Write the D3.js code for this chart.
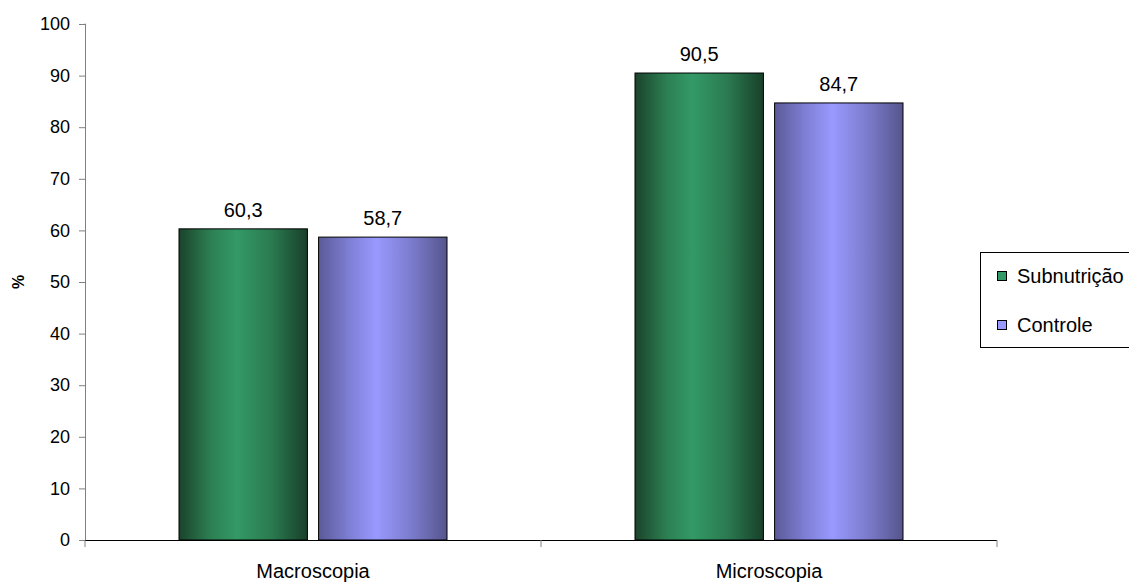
<!DOCTYPE html>
<html>
<head>
<meta charset="utf-8">
<script src="https://cdn.jsdelivr.net/npm/d3@7"></script>
<style>
  body { margin: 0; background: #fff; }
  text { font-family: "Liberation Sans", Arial, sans-serif; fill: #000; }
</style>
</head>
<body>
<svg id="chart"></svg>
<script>
const categories = ["Macroscopia", "Microscopia"];
const seriesNames = ["Subnutrição", "Controle"];
const subnutricao = [60.3, 90.5];
const controle = [58.7, 84.7];
const yTicks = [0, 10, 20, 30, 40, 50, 60, 70, 80, 90, 100];

const W = 1129, H = 584;
const margin = { left: 85, right: 132, top: 24, bottom: 44 };

const svg = d3.select("#chart").attr("width", W).attr("height", H);

// gradients, dark at the edges and light in the middle
const defs = svg.append("defs");
const grads = [
  { id: "g0", stops: ["#1a432b", "#2d8053", "#339966", "#2b7a50", "#17402a"] },
  { id: "g1", stops: ["#5a5a98", "#8080d8", "#9999ff", "#7c7cce", "#55558c"] }
];
grads.forEach(g => {
  const lg = defs.append("linearGradient").attr("id", g.id)
    .attr("x1", "0%").attr("x2", "100%").attr("y1", "0%").attr("y2", "0%");
  [0, 0.25, 0.45, 0.72, 1].forEach((o, i) => {
    lg.append("stop").attr("offset", o).attr("stop-color", g.stops[i]);
  });
});

const x0 = d3.scaleBand()
  .domain(categories)
  .range([margin.left, W - margin.right])
  .paddingInner(0)
  .paddingOuter(0);

const x1 = d3.scaleBand()
  .domain(seriesNames)
  .range([94, x0.bandwidth() - 94])
  .paddingInner(0.08);

const y = d3.scaleLinear()
  .domain([0, 100])
  .range([H - margin.bottom, margin.top]);

const data = categories.map((c, i) => ({
  cat: c,
  vals: [
    { s: seriesNames[0], v: subnutricao[i], k: 0 },
    { s: seriesNames[1], v: controle[i], k: 1 }
  ]
}));

// y axis
const yAxis = d3.axisLeft(y).tickValues(yTicks).tickSize(6).tickPadding(9);
const gy = svg.append("g").attr("transform", `translate(${margin.left},0)`).call(yAxis);
gy.select(".domain").attr("stroke", "#808080").attr("d", `M-0.5,${y(100)}H0.5V${y(0)}`);
gy.selectAll(".tick line").attr("stroke", "#808080").attr("x1", -6).attr("x2", 0);
gy.selectAll(".tick text").style("font-size", "18px");

// y label
svg.append("text")
  .attr("transform", `translate(24,${(y(0) + y(100)) / 2}) rotate(-90)`)
  .attr("text-anchor", "middle")
  .style("font-size", "16px")
  .style("font-weight", "bold")
  .text("%");

// bars
const groups = svg.selectAll(".grp").data(data).enter().append("g")
  .attr("class", "grp")
  .attr("transform", d => `translate(${x0(d.cat)},0)`);

groups.selectAll("rect").data(d => d.vals).enter().append("rect")
  .attr("x", d => x1(d.s))
  .attr("y", d => y(d.v))
  .attr("width", x1.bandwidth())
  .attr("height", d => y(0) - y(d.v))
  .attr("fill", d => `url(#g${d.k})`)
  .attr("stroke", "#000")
  .attr("stroke-width", 1);

groups.selectAll(".lbl").data(d => d.vals).enter().append("text")
  .attr("class", "lbl")
  .attr("x", d => x1(d.s) + x1.bandwidth() / 2)
  .attr("y", d => y(d.v) - 12)
  .attr("text-anchor", "middle")
  .style("font-size", "20px")
  .text(d => d3.format(".1f")(d.v).replace(".", ","));

// x axis
const xAxis = d3.axisBottom(x0).tickSize(0).tickPadding(24);
const gx = svg.append("g").attr("transform", `translate(0,${y(0)})`).call(xAxis);
gx.select(".domain").attr("stroke", "#000").attr("d", `M${margin.left},0.5H${W - margin.right}`);
gx.selectAll(".tick text").style("font-size", "20px").attr("dy", "0.71em");
// boundary ticks between categories
const bounds = [x0.range()[0], x0(categories[1]), x0.range()[1]];
gx.selectAll(".bt").data(bounds).enter().append("line")
  .attr("class", "bt")
  .attr("x1", d => d).attr("x2", d => d)
  .attr("y1", 0).attr("y2", 7)
  .attr("stroke", "#808080");

// legend
const lg = svg.append("g").attr("transform", "translate(980,252)");
lg.append("rect").attr("x", 0.5).attr("y", 0.5).attr("width", 170).attr("height", 95)
  .attr("fill", "#fff").attr("stroke", "#000");
seriesNames.forEach((s, i) => {
  lg.append("rect").attr("x", 17.5).attr("y", 19.5 + i * 49).attr("width", 9).attr("height", 9)
    .attr("fill", grads[i].stops[2]).attr("stroke", "#000");
  lg.append("text").attr("x", 37).attr("y", 31 + i * 49)
    .style("font-size", "20px").text(s);
});
</script>
</body>
</html>
